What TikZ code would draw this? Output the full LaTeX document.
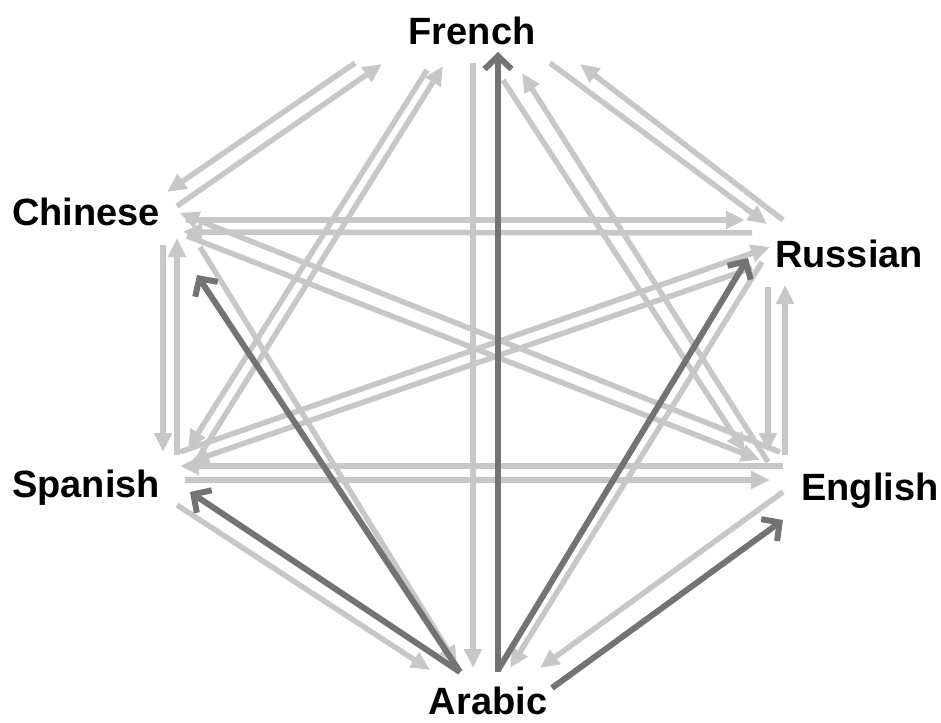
\documentclass[tikz,border=0pt]{standalone}
\usepackage{fontspec}
\setmainfont{Liberation Sans}
\usepackage{xcolor}
\usepackage{tikz}
\usetikzlibrary{arrows.meta}

\begin{document}
\begin{tikzpicture}[
    x=1pt, y=-1pt,
    lang-node/.style={font=\bfseries\fontsize{38}{38}\selectfont, anchor=base, inner sep=0pt},
    edge/.style={draw=black!22, line width=5.5pt, -{Triangle[length=19pt, width=17pt]}},
    arabic-edge/.style={draw=black!55, line width=6pt, -{Straight Barb[length=13pt, width=27pt]}}
]

    \useasboundingbox (0,0) rectangle (941,722);

    \node[lang-node] (fr) at (472, 45) {French};
    \node[lang-node] (ch) at (86, 225) {Chinese};
    \node[lang-node] (ru) at (849, 267) {Russian};
    \node[lang-node] (sp) at (86, 497) {Spanish};
    \node[lang-node] (en) at (870, 500) {English};
    \node[lang-node] (ar) at (488, 714) {Arabic};

    \draw[edge] ([shift={(-117,18)}]fr.base) -- ([shift={(81,-33)}]ch.base);
    \draw[edge] ([shift={(91,-19)}]ch.base) -- ([shift={(-90,19)}]fr.base);
    \draw[edge] ([shift={(100,-5)}]ch.base) -- ([shift={(-104,-47)}]ru.base);
    \draw[edge] ([shift={(-97,-34)}]ru.base) -- ([shift={(97,7)}]ch.base);
    \draw[edge] ([shift={(-90,-48)}]en.base) -- ([shift={(94,-12)}]ch.base);
    \draw[edge] ([shift={(101,11)}]ch.base) -- ([shift={(-110,-40)}]en.base);
    \draw[edge] ([shift={(77,20)}]ch.base) -- ([shift={(77,-45)}]sp.base);
    \draw[edge] ([shift={(91,-42)}]sp.base) -- ([shift={(91,13)}]ch.base);
    \draw[edge] ([shift={(114,22)}]ch.base) -- ([shift={(-31,-49)}]ar.base);

    \draw[edge] ([shift={(-45,25)}]fr.base) -- ([shift={(102,-48)}]sp.base);
    \draw[edge] ([shift={(114,-42)}]sp.base) -- ([shift={(-29,21)}]fr.base);
    \draw[edge] ([shift={(1,18)}]fr.base) -- ([shift={(-15,-46)}]ar.base);
    \draw[edge] ([shift={(31,35)}]fr.base) -- ([shift={(-125,-48)}]en.base);
    \draw[edge] ([shift={(-102,-38)}]en.base) -- ([shift={(50,28)}]fr.base);
    \draw[edge] ([shift={(78,18)}]fr.base) -- ([shift={(-82,-43)}]ru.base);
    \draw[edge] ([shift={(-66,-47)}]ru.base) -- ([shift={(108,19)}]fr.base);

    \draw[edge] ([shift={(94,-45)}]sp.base) -- ([shift={(-79,-20)}]ru.base);
    \draw[edge] ([shift={(-97,1)}]ru.base) -- ([shift={(104,-35)}]sp.base);
    \draw[edge] ([shift={(-87,-34)}]en.base) -- ([shift={(94,-31)}]sp.base);
    \draw[edge] ([shift={(99,-17)}]sp.base) -- ([shift={(-100,-20)}]en.base);
    \draw[edge] ([shift={(91,8)}]sp.base) -- ([shift={(-58,-44)}]ar.base);
    \draw[edge] ([shift={(-87,-8)}]en.base) -- ([shift={(52,-46)}]ar.base);
    \draw[edge] ([shift={(-87,-5)}]ru.base) -- ([shift={(22,-46)}]ar.base);
    \draw[edge] ([shift={(-81,20)}]ru.base) -- ([shift={(-102,-48)}]en.base);
    \draw[edge] ([shift={(-85,-45)}]en.base) -- ([shift={(-64,18)}]ru.base);

    \draw[arabic-edge] ([shift={(-28,-42)}]ar.base) -- ([shift={(111,50)}]ch.base);
    \draw[arabic-edge] ([shift={(-28,-42)}]ar.base) -- ([shift={(104,-5)}]sp.base);
    \draw[arabic-edge] ([shift={(10,-42)}]ar.base) -- ([shift={(26,7)}]fr.base);
    \draw[arabic-edge] ([shift={(10,-44)}]ar.base) -- ([shift={(-101,-9)}]ru.base);
    \draw[arabic-edge] ([shift={(64,-26)}]ar.base) -- ([shift={(-87,20)}]en.base);

\end{tikzpicture}
\end{document}
